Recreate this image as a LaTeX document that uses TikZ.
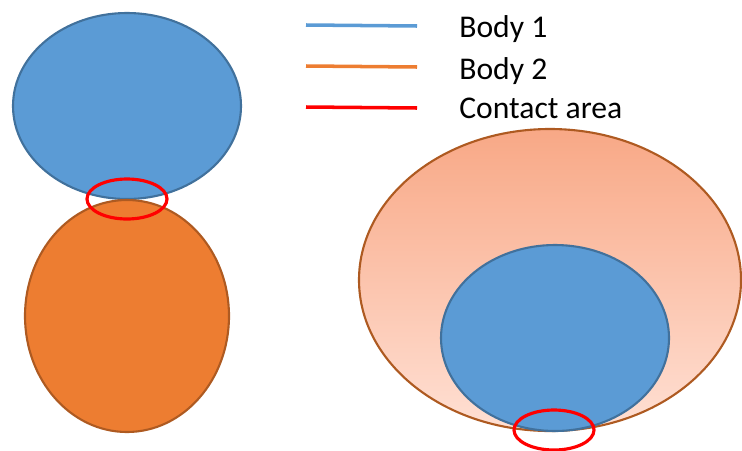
\documentclass[tikz,border=0pt]{standalone}
\usepackage{fontspec}
\setmainfont{Carlito}
\usepackage{tikz}

\definecolor{bodyblue}{RGB}{91,155,213}
\definecolor{bodyblueline}{RGB}{65,113,156}
\definecolor{bodyorange}{RGB}{237,125,49}
\definecolor{bodyorangeline}{RGB}{174,90,33}
\definecolor{peachtop}{RGB}{248,168,134}
\definecolor{peachbottom}{RGB}{255,224,212}

\tikzset{
  body1/.style={fill=bodyblue, draw=bodyblueline, line width=1.2pt},
  body2/.style={fill=bodyorange, draw=bodyorangeline, line width=1.2pt},
  contact/.style={draw=red, line width=1.8pt},
  legendline/.style={line width=2pt},
  legendtext/.style={anchor=base west, inner sep=0pt, font=\fontsize{18pt}{20pt}\selectfont}
}

\begin{document}
\begin{tikzpicture}[x=0.02cm, y=-0.02cm]
   \useasboundingbox (0,0) rectangle (742,450);

   % two bodies touching from outside
   \draw[body1] (127,106) ellipse [x radius=114, y radius=93];
   \draw[body2] (127,316) ellipse [x radius=102, y radius=116];
   \draw[contact] (127,199) ellipse [x radius=40, y radius=20];

   % body inside a hollow body
   \draw[draw=bodyorangeline, line width=1.2pt, top color=peachtop, bottom color=peachbottom]
      (550,280) ellipse [x radius=191, y radius=151];
   \draw[body1] (555,338) ellipse [x radius=114, y radius=93];
   \draw[contact] (554,430) ellipse [x radius=40, y radius=20];

   % legend
   \coordinate (b1a) at (306,25);  \coordinate (b1b) at (417,26);
   \coordinate (b2a) at (306,66);  \coordinate (b2b) at (417,67);
   \coordinate (caa) at (306,107); \coordinate (cab) at (417,108);
   \draw[legendline, bodyblue] (b1a) -- (b1b);
   \draw[legendline, bodyorange] (b2a) -- (b2b);
   \draw[legendline, red] (caa) -- (cab);
   \node[legendtext] (body1lbl) at (459,37) {Body 1};
   \node[legendtext] (body2lbl) at (459,79) {Body 2};
   \node[legendtext] (contactlbl) at (459,118) {Contact area};
\end{tikzpicture}
\end{document}
